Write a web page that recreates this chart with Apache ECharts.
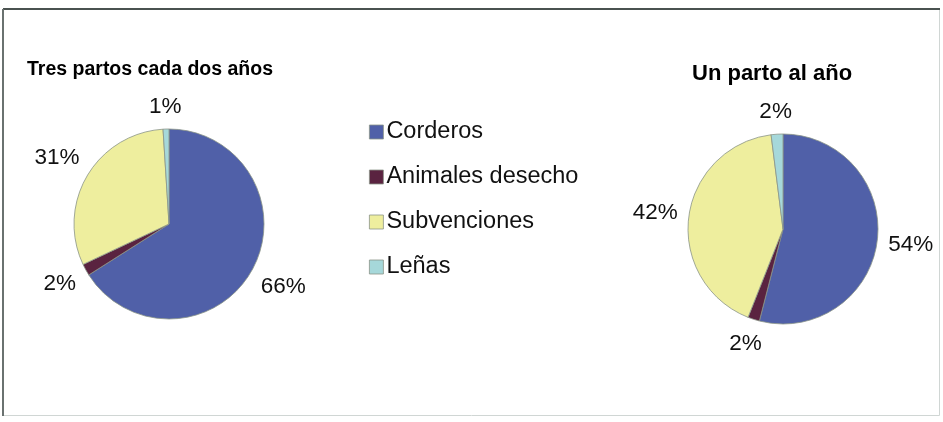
<!DOCTYPE html>
<html>
<head>
<meta charset="utf-8">
<script src="https://cdn.jsdelivr.net/npm/echarts@6/dist/echarts.min.js"></script>
<style>html,body{margin:0;padding:0;background:#fff}#c{width:943px;height:422px}</style>
</head>
<body>
<div id="c"></div>
<script>
var categories = ['Corderos', 'Animales desecho', 'Subvenciones', 'Leñas'];
var titleLeft = 'Tres partos cada dos años';
var titleRight = 'Un parto al año';
var valuesLeft = [66, 2, 31, 1];
var valuesRight = [54, 2, 42, 2];
var colors = ['#5060a8', '#5a2340', '#eeee9e', '#a6d8da'];

var FONT = '"Liberation Sans", Arial, sans-serif';

function centeredLabel(params) {
  var p = params.labelLinePoints;
  if (!p || p.length < 2) return {};
  var dx = p[1][0] - p[0][0], dy = p[1][1] - p[0][1];
  var len = Math.sqrt(dx * dx + dy * dy) || 1;
  dx /= len; dy /= len;
  var r = params.labelRect;
  var off = r.width / 2 * Math.abs(dx) + r.height / 2 * Math.abs(dy);
  return {
    x: p[1][0] + dx * off,
    y: p[1][1] + dy * off,
    align: 'center',
    verticalAlign: 'middle'
  };
}

function makeSeries(name, values, center) {
  return {
    name: name,
    type: 'pie',
    radius: 95,
    center: center,
    startAngle: 90,
    clockwise: true,
    silent: true,
    animation: false,
    data: categories.map(function (c, i) { return { name: c, value: values[i] }; }),
    itemStyle: { borderColor: '#8a9488', borderWidth: 0.8 },
    label: {
      show: true,
      position: 'outside',
      formatter: '{c}%',
      fontFamily: FONT,
      fontSize: 22.5,
      color: '#111',
      overflow: 'none',
      edgeDistance: 0,
      bleedMargin: 0
    },
    labelLine: { show: true, length: 10, length2: 0, lineStyle: { opacity: 0 } },
    labelLayout: centeredLabel
  };
}

var chart = echarts.init(document.getElementById('c'), null, { renderer: 'canvas' });
chart.setOption({
  backgroundColor: '#fff',
  animation: false,
  color: colors,
  title: [
    { text: titleLeft, left: 22, top: 55, textStyle: { fontFamily: FONT, fontSize: 19.5, fontWeight: 'bold', color: '#000' } },
    { text: titleRight, left: 687, top: 58, textStyle: { fontFamily: FONT, fontSize: 22, fontWeight: 'bold', color: '#000' } }
  ],
  legend: {
    orient: 'vertical',
    left: 364,
    top: 115,
    itemWidth: 14,
    itemHeight: 14,
    itemGap: 21,
    icon: 'rect',
    selectedMode: false,
    data: categories,
    itemStyle: { borderColor: '#8a9488', borderWidth: 0.8 },
    textStyle: { fontFamily: FONT, fontSize: 23.5, color: '#111', lineHeight: 24, padding: [0, 0, 0, -2] }
  },
  graphic: [
    { type: 'rect', shape: { x: 3.5, y: 8.5, width: 936, height: 407 }, style: { fill: 'none', stroke: '#d0d6d4', lineWidth: 1 } },
    { type: 'line', shape: { x1: 3, y1: 9, x2: 940, y2: 9 }, style: { stroke: '#4a5250', lineWidth: 2 } },
    { type: 'line', shape: { x1: 3, y1: 9, x2: 3, y2: 416 }, style: { stroke: '#6a7270', lineWidth: 2 } }
  ],
  series: [
    makeSeries(titleLeft, valuesLeft, [169, 224]),
    makeSeries(titleRight, valuesRight, [783, 229])
  ]
});
</script>
</body>
</html>
